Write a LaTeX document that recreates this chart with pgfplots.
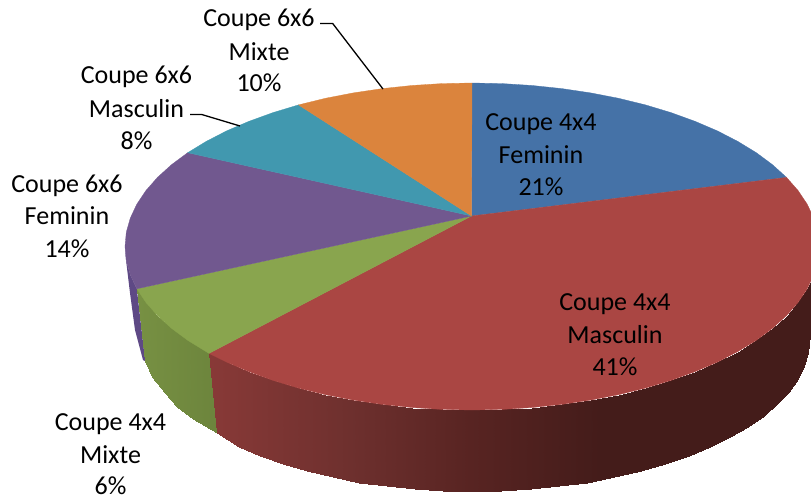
\documentclass[border=0pt]{standalone}
\usepackage{pgfplots}
\pgfplotsset{compat=1.18}
\usepackage{fontspec}
\setmainfont{Carlito}
\definecolor{cblue}{RGB}{69,114,167}
\definecolor{cred}{RGB}{170,70,67}
\definecolor{cgreen}{RGB}{137,165,78}
\definecolor{cpurple}{RGB}{113,88,143}
\definecolor{cteal}{RGB}{65,152,175}
\definecolor{corange}{RGB}{219,132,61}
\definecolor{cpside}{RGB}{94,73,133}
\begin{document}
\begin{tikzpicture}[lab/.style={anchor=base,inner sep=0pt,font=\fontsize{26}{30}\selectfont,text=black}]
\useasboundingbox (0,0) rectangle (811pt,495pt);
\begin{axis}[
  at={(0,0)}, anchor=south west,
  scale only axis, width=811pt, height=495pt,
  xmin=0, xmax=811, ymin=0, ymax=495, y dir=reverse,
  hide axis, clip=true,
  point meta min=100, point meta max=820,
  colormap={redside}{rgb255(0pt)=(138,58,56); rgb255(100pt)=(138,58,56); rgb255(250pt)=(110,48,46); rgb255(370pt)=(88,36,34); rgb255(500pt)=(68,28,26); rgb255(720pt)=(68,28,26)},
  colormap={greenside}{rgb255(0pt)=(124,150,70); rgb255(120pt)=(108,132,60); rgb255(720pt)=(108,132,60)},
]
% purple side
\addplot[draw=none, fill=cpside, forget plot] coordinates {
(125,246.5)(126.3,260.8)(130.3,274.9)(136.8,288.8)(145.2,361.1)(143,360)(135,330)(130,293)(126,260)};
% green side
\addplot[surf, shader=interp, colormap name=greenside, mesh/rows=2, mesh/cols=6, point meta=x, forget plot] table {
x y
136.8 288.8
145.9 302.4
157.5 315.6
171.5 328.3
187.7 340.3
209 353.4
145.2 361.1
151.8 376.7
165 393
177 407
193 419
217 433
};
% red side
\addplot[surf, shader=interp, colormap name=redside, mesh/rows=2, mesh/cols=29, point meta=x, forget plot] table {
x y
209 353.4
226.6 362.1
249 371.7
273 380.4
298.5 388.1
325.4 394.7
353.3 400.1
382.2 404.4
411.7 407.5
441.7 409.4
472 410
502.3 409.4
532.3 407.5
561.8 404.4
590.7 400.1
618.6 394.7
645.5 388.1
671 380.4
695 371.7
717.4 362.1
737.8 351.6
756.3 340.3
772.5 328.3
786.5 315.6
798.1 302.4
807.2 288.8
813.7 274.9
817.7 260.8
819 246.5
217 433
238.7 447.2
259.9 456.1
282.7 464.2
307 471.3
332.5 477.4
359.1 482.5
386.6 486.4
414.7 489.3
443.2 491
472 491.6
501.4 491
530.5 489.3
559.2 486.4
587.3 482.5
614.4 477.4
640.5 471.3
665.3 464.2
688.6 456.1
710.3 447.2
730.1 437.4
748.1 427
763.8 415.8
777.4 404.1
788.7 391.8
797.5 379.2
803.9 366.3
807.7 353.2
809 340
};
% top face: blue
\addplot[draw=cblue, line width=0.3pt, fill=cblue, forget plot] coordinates {
(471.5,216)(472,83)(502.3,83.6)(532.3,85.5)(561.8,88.6)(590.7,92.9)(618.6,98.3)(645.5,104.9)(671,112.6)(695,121.3)(717.4,130.9)(737.8,141.4)(756.3,152.7)(772.5,164.7)(786.5,177.4)} -- cycle;
% red
\addplot[draw=cred, line width=0.3pt, fill=cred, forget plot] coordinates {
(471.5,216)(786.5,177.4)(798.1,190.6)(807.2,204.2)(813.7,218.1)(817.7,232.2)(819,246.5)(817.7,260.8)(813.7,274.9)(807.2,288.8)(798.1,302.4)(786.5,315.6)(772.5,328.3)(756.3,340.3)(737.8,351.6)(717.4,362.1)(695,371.7)(671,380.4)(645.5,388.1)(618.6,394.7)(590.7,400.1)(561.8,404.4)(532.3,407.5)(502.3,409.4)(472,410)(441.7,409.4)(411.7,407.5)(382.2,404.4)(353.3,400.1)(325.4,394.7)(298.5,388.1)(273,380.4)(249,371.7)(226.6,362.1)(209,353.4)} -- cycle;
% green
\addplot[draw=cgreen, line width=0.3pt, fill=cgreen, forget plot] coordinates {
(471.5,216)(209,353.4)(187.7,340.3)(171.5,328.3)(157.5,315.6)(145.9,302.4)(136.8,288.8)} -- cycle;
% purple
\addplot[draw=cpurple, line width=0.3pt, fill=cpurple, forget plot] coordinates {
(471.5,216)(136.8,288.8)(130.3,274.9)(126.3,260.8)(125,246.5)(126.3,232.2)(130.3,218.1)(136.8,204.2)(145.9,190.6)(157.5,177.4)(171.5,164.7)(187.7,152.7)} -- cycle;
% teal
\addplot[draw=cteal, line width=0.3pt, fill=cteal, forget plot] coordinates {
(471.5,216)(187.7,152.7)(206.2,141.4)(226.6,130.9)(249,121.3)(273,112.6)(298.5,104.9)} -- cycle;
% orange
\addplot[draw=corange, line width=0.3pt, fill=corange, forget plot] coordinates {
(471.5,216)(298.5,104.9)(325.4,98.3)(353.3,92.9)(382.2,88.6)(411.7,85.5)(441.7,83.6)(472,83)} -- cycle;
% leaders
\addplot[black, line width=1.3pt, forget plot] coordinates {(320,23.5)(332.7,23.5)(383,89)};
\addplot[black, line width=1.3pt, forget plot] coordinates {(190,114.5)(201.7,114.5)(240,126)};
% labels
\node[lab] at (axis cs:541,130) {Coupe 4x4};
\node[lab] at (axis cs:541,163) {Feminin};
\node[lab] at (axis cs:541,195) {21\%};
\node[lab] at (axis cs:615,310) {Coupe 4x4};
\node[lab] at (axis cs:615,343) {Masculin};
\node[lab] at (axis cs:615,375) {41\%};
\node[lab] at (axis cs:110.5,430) {Coupe 4x4};
\node[lab] at (axis cs:110.5,463) {Mixte};
\node[lab] at (axis cs:110.5,494) {6\%};
\node[lab] at (axis cs:67,192) {Coupe 6x6};
\node[lab] at (axis cs:67,224) {Feminin};
\node[lab] at (axis cs:67,257) {14\%};
\node[lab] at (axis cs:136.5,84) {Coupe 6x6};
\node[lab] at (axis cs:136.5,117) {Masculin};
\node[lab] at (axis cs:136.5,149) {8\%};
\node[lab] at (axis cs:259,27) {Coupe 6x6};
\node[lab] at (axis cs:259,60) {Mixte};
\node[lab] at (axis cs:259,92) {10\%};
\end{axis}
\end{tikzpicture}
\end{document}
